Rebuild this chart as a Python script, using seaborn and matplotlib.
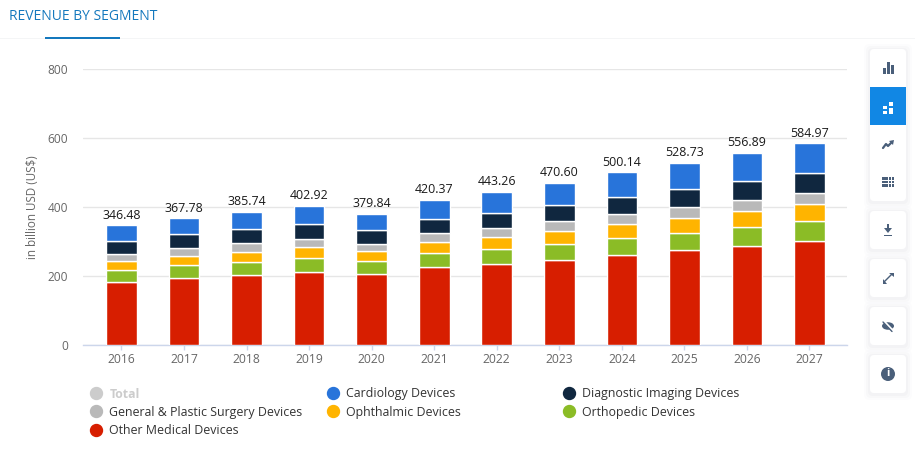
import matplotlib
matplotlib.use("Agg")
import matplotlib.pyplot as plt
from matplotlib.lines import Line2D
from matplotlib.patches import FancyBboxPatch, Rectangle, Polygon, Circle, Ellipse
import seaborn as sns
import pandas as pd

years = ["2016","2017","2018","2019","2020","2021","2022","2023","2024","2025","2026","2027"]
totals = [346.48,367.78,385.74,402.92,379.84,420.37,443.26,470.60,500.14,528.73,556.89,584.97]
other_medical = [182,193,202,211,206,226,235,246.5,261,274,286,301]
orthopedic = [34,38,38,40,37.5,40.7,43,45.4,49,52,55,57]
ophthalmic = [27,26,29,32,28,32,34,37.7,40.7,41,46,50]
general_plastic = [20,23,26,23,20.3,26,26,29,28,32,32,32]
diagnostic = [38,42,40,45,41.5,40.3,44.6,47.2,50.3,53,55,59]
cardiology = [45.48,45.78,50.74,51.92,46.54,55.37,60.66,64.8,71.14,76.73,82.89,85.97]

series = [
    ("Other Medical Devices", other_medical, "#d71e00"),
    ("Orthopedic Devices", orthopedic, "#8bbc26"),
    ("Ophthalmic Devices", ophthalmic, "#ffb400"),
    ("General & Plastic Surgery Devices", general_plastic, "#b9b9b9"),
    ("Diagnostic Imaging Devices", diagnostic, "#10273f"),
    ("Cardiology Devices", cardiology, "#2874da"),
]

sns.set_theme(style="white")
plt.rcParams["font.family"] = ["Open Sans", "DejaVu Sans"]

W, H = 915, 468
fig = plt.figure(figsize=(W/100, H/100), dpi=100, facecolor="white")

L, R, T, B = 83, 847, 69, 345
ax = fig.add_axes([L/W, 1-B/H, (R-L)/W, (B-T)/H])
ax.set_axisbelow(True)

bottom = [0.0]*len(years)
for name, vals, col in series:
    df = pd.DataFrame({"year": years, "value": vals})
    sns.barplot(data=df, x="year", y="value", color=col, bottom=bottom, width=0.49,
                saturation=1, edgecolor="white", linewidth=1, ax=ax, zorder=3)
    bottom = [b+v for b, v in zip(bottom, vals)]

for i, t in enumerate(totals):
    ax.annotate(f"{t:.2f}", (i, t), xytext=(0, 2.6), textcoords="offset points",
                ha="center", va="bottom", fontsize=8.9, color="#1a1a1a", zorder=5)

ax.set_xlim(-0.615, 11.6)
ax.set_ylim(0, 800)
ax.set_yticks([0, 200, 400, 600, 800])
ax.grid(axis="y", color="#e6e6e6", linewidth=1)
ax.grid(axis="x", visible=False)
for s in ["top", "left", "right"]:
    ax.spines[s].set_visible(False)
ax.spines["bottom"].set_color("#ccd6eb")
ax.spines["bottom"].set_linewidth(1)
ax.tick_params(axis="y", length=0, labelsize=8.6, labelcolor="#666666", pad=10.5)
ax.tick_params(axis="x", length=3.5, width=1, color="#ccd6eb", bottom=True,
               labelsize=8.7, labelcolor="#666666", pad=2)
ax.set_xlabel("")
ax.set_ylabel("in billion USD (US$)", fontsize=8.4, color="#666666", labelpad=6.5)

def col_legend(entries, x_px):
    hs = [Line2D([], [], marker="o", ls="", ms=8.6, color=c, label=n) for n, c in entries]
    leg = fig.legend(handles=hs, loc="upper left", bbox_to_anchor=(x_px/W, 1-387.5/H),
                     frameon=False, fontsize=8.9, labelspacing=0.42, handletextpad=0.05,
                     borderpad=0, borderaxespad=0, labelcolor="#333333")
    return leg

c = {n: k for n, _, k in series}
leg1 = col_legend([("Total", "#cccccc"), ("General & Plastic Surgery Devices", c["General & Plastic Surgery Devices"]),
                   ("Other Medical Devices", c["Other Medical Devices"])], 84)
leg1.get_texts()[0].set_color("#cccccc")
leg1.get_texts()[0].set_fontweight("bold")
col_legend([("Cardiology Devices", c["Cardiology Devices"]), ("Ophthalmic Devices", c["Ophthalmic Devices"])], 320.5)
col_legend([("Diagnostic Imaging Devices", c["Diagnostic Imaging Devices"]), ("Orthopedic Devices", c["Orthopedic Devices"])], 556.5)

# page chrome in pixel coordinates
ov = fig.add_axes([0, 0, 1, 1], facecolor="none", zorder=10)
ov.set_xlim(0, W); ov.set_ylim(H, 0); ov.axis("off")
ov.text(9, 16, "REVENUE BY SEGMENT", fontsize=10, color="#1478bd", va="center", ha="left")
ov.add_patch(Rectangle((0, 37.5), W, 1.5, color="#f4f5f6", lw=0))
ov.add_patch(Rectangle((45, 37), 75, 2, color="#1478bd", lw=0))

ICON = "#4a5f7a"
def card(y0, y1):
    for k, a in ((6, .012), (4, .018), (2, .025)):
        ov.add_patch(FancyBboxPatch((870-k, y0-k+1), 36+2*k, y1-y0+2*k, boxstyle="round,pad=0,rounding_size=5",
                                    fc="#33475b", ec="none", alpha=a))
    ov.add_patch(FancyBboxPatch((870, y0), 36, y1-y0, boxstyle="round,pad=0,rounding_size=4",
                                fc="white", ec="none"))
card(49, 201)
card(211, 249); card(259, 297); card(307, 345); card(355, 393)
ov.add_patch(Rectangle((870, 87), 36, 38, color="#1187e4", lw=0))
for x, y, h in ((882.5, 68, 6), (886.5, 62, 12), (890.5, 65, 9)):
    ov.add_patch(Rectangle((x, y), 3, h, color=ICON, lw=0))
for x, y, w, h in ((883, 106, 4, 3), (883, 111, 4, 3), (889, 102, 4, 4), (889, 108, 4, 6)):
    ov.add_patch(Rectangle((x, y), w, h, color="white", lw=0))
ov.plot([883, 886, 888, 892], [148, 144, 146, 142], color=ICON, lw=1.6, solid_capstyle="round")
ov.add_patch(Polygon([[889, 141], [894, 140], [893, 145]], color=ICON, lw=0))
for r in range(3):
    for x, w in ((882, 6), (889, 2), (892, 2)):
        ov.add_patch(Rectangle((x, 177+r*3.6), w, 2.7, color=ICON, lw=0))
ov.add_patch(Rectangle((886.6, 224), 2.8, 5, color=ICON, lw=0))
ov.add_patch(Polygon([[884, 228], [892, 228], [888, 233]], color=ICON, lw=0))
ov.add_patch(Rectangle((884, 234.5), 8, 1.6, color=ICON, lw=0))
ov.plot([884.5, 891.5], [281.5, 274.5], color=ICON, lw=1)
ov.add_patch(Polygon([[889, 272.5], [893.5, 272.5], [893.5, 277]], color=ICON, lw=0))
ov.add_patch(Polygon([[882.5, 279], [882.5, 283.5], [887, 283.5]], color=ICON, lw=0))
ov.add_patch(Ellipse((888, 326), 12, 7.5, color=ICON, lw=0))
ov.plot([884, 893], [321.5, 331], color="white", lw=1.8)
ov.plot([883, 892], [322, 331.5], color=ICON, lw=1)
ov.add_patch(Circle((888, 374), 7, color=ICON, lw=0))
ov.text(888, 374, "i", color="white", fontsize=8, fontweight="bold", ha="center", va="center")

fig.savefig("out.png", dpi=100, facecolor="white")
